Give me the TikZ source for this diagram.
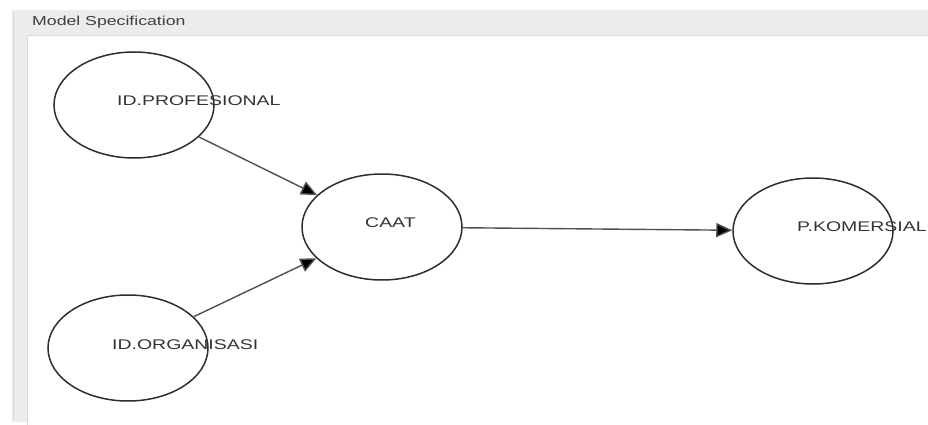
\documentclass[tikz,border=0pt]{standalone}
\usepackage{fontspec}
\setmainfont{Liberation Sans}
\newfontfamily\boxfont[FakeStretch=1.39]{Liberation Sans}
\newfontfamily\titlefont[FakeStretch=1.36]{Liberation Sans}
\usetikzlibrary{shapes.geometric,arrows.meta,positioning,calc}
\definecolor{panelgray}{HTML}{ECECEC}
\definecolor{framegray}{HTML}{DADADA}
\definecolor{inkgray}{HTML}{2E2E2E}
\definecolor{edgegray}{HTML}{505050}
\tikzset{
  latvar/.style={draw=inkgray,line width=1.5pt,ellipse,minimum width=160pt,minimum height=106pt,inner sep=0pt},
  lbl/.style={anchor=west,inner sep=0pt,font=\boxfont\fontsize{14}{16}\selectfont,text=black!80},
  path/.style={draw=edgegray,line width=1.4pt,-{Triangle[length=16pt,width=14pt,fill=black]}}
}
\begin{document}
\begin{tikzpicture}[x=1pt,y=-1pt]
    \useasboundingbox (0,0) rectangle (928,425);
    \fill[panelgray] (12,10) rectangle (928,422);
    \draw[framegray] (13,11) -- (13,421);
    \fill[white] (27,35) rectangle (928,425);
    \draw[framegray] (27,425) -- (27,35) -- (928,35);
    \node[anchor=west,inner sep=0pt,font=\titlefont\fontsize{13}{15}\selectfont,text=black!75] (title) at (32,22) {Model Specification};

    \node[latvar] (prof) at (134,105) {};
    \node[latvar] (caat) at (382,227) {};
    \node[latvar] (org) at (128,348) {};
    \node[latvar] (kom) at (813,231) {};

    \node[lbl] (prof-t) at ([shift={(-17,-4)}]prof.center) {ID.PROFESIONAL};
    \node[lbl] (caat-t) at ([shift={(-17,-4)}]caat.center) {CAAT};
    \node[lbl] (org-t) at ([shift={(-16,-3)}]org.center) {ID.ORGANISASI};
    \node[lbl] (kom-t) at ([shift={(-16,-4)}]kom.center) {P.KOMERSIAL};

    \draw[path] (prof) -- (caat);
    \draw[path] (org) -- (caat);
    \draw[path] (caat) -- (kom);
\end{tikzpicture}
\end{document}
